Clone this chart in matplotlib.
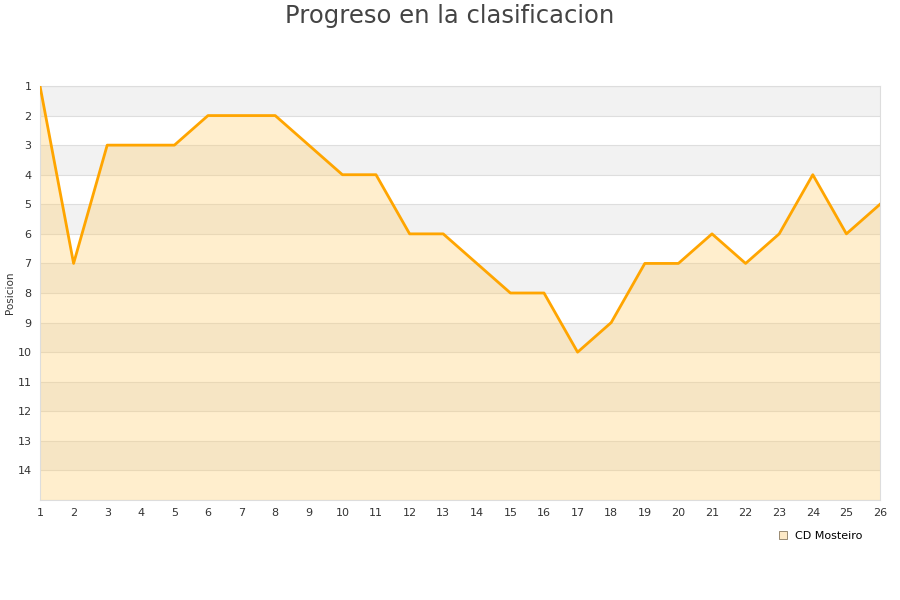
import matplotlib
matplotlib.use("Agg")
import matplotlib.pyplot as plt
from matplotlib.lines import Line2D

jornadas = list(range(1, 27))
posiciones = [1, 7, 3, 3, 3, 2, 2, 2, 3, 4, 4, 6, 6, 7, 8, 8, 10, 9, 7, 7, 6, 7, 6, 4, 6, 5]
y_ticks = list(range(1, 15))
team = "CD Mosteiro"
title = "Progreso en la clasificacion"
ylabel = "Posicion"

fig = plt.figure(figsize=(9, 6), dpi=100)
ax = fig.add_axes([40/900, 1-500/600, 840/900, 414/600])

ymin, ymax = 1, 15
# alternating bands
for i in range(ymin, ymax):
    if (i - ymin) % 2 == 0:
        ax.axhspan(i, i + 1, color="#f2f2f2", zorder=0, lw=0)
for i in range(ymin, ymax + 1):
    ax.axhline(i, color="#dedede", lw=0.8, zorder=1)

ax.fill_between(jornadas, posiciones, ymax, color="#ffcf70", alpha=0.35, lw=0, zorder=2)
ax.plot(jornadas, posiciones, color="#ffa500", lw=2, zorder=3)

ax.set_xlim(1, 26)
ax.set_ylim(ymax, ymin)
ax.set_xticks(jornadas)
ax.set_yticks(y_ticks)
ax.tick_params(axis="both", length=0, labelsize=8, colors="#333333", pad=6)
for s in ax.spines.values():
    s.set_color("#dddddd")
    s.set_linewidth(0.8)

fig.text(0.5, 1-16/600, title, ha="center", va="center", fontsize=17.5, color="#444444")
fig.text(10/900, 1-293/600, ylabel, rotation=90, ha="center", va="center", fontsize=7.5, color="#333333")

handle = Line2D([], [], marker="s", ls="none", markersize=6,
                markerfacecolor="#fde9c6", markeredgecolor="#8a7a60", markeredgewidth=0.6)
fig.legend([handle], [team], loc="center left", bbox_to_anchor=(772/900, 1-536/600),
           frameon=False, fontsize=8, handlelength=1, handletextpad=0.6, borderpad=0)

fig.savefig("out.png", dpi=100)
